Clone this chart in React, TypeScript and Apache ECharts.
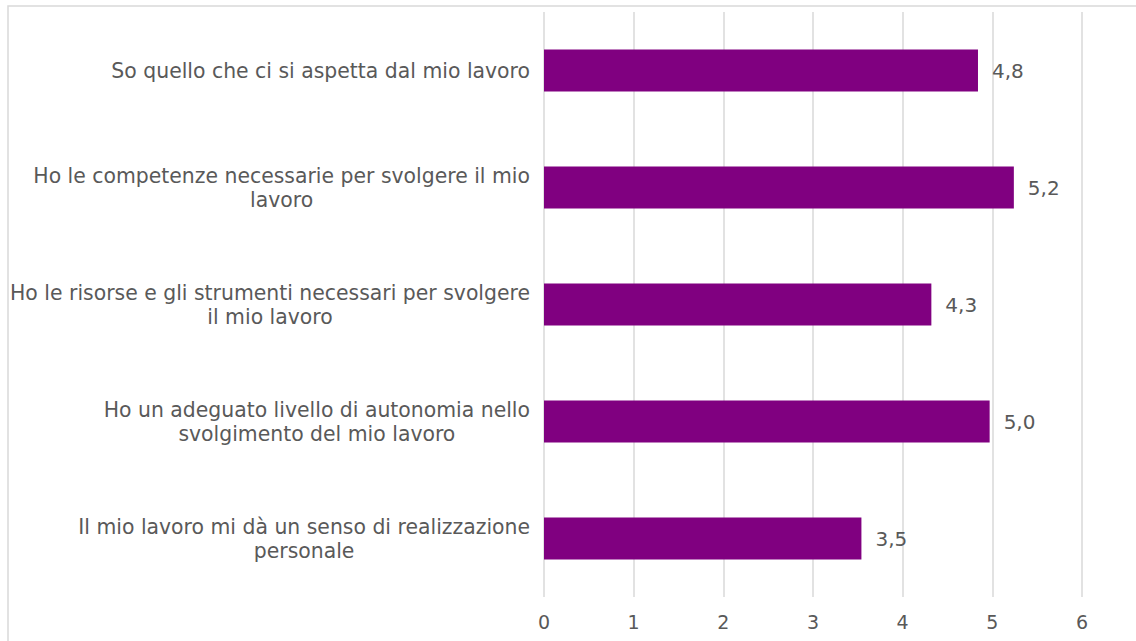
import React, { useEffect, useRef } from "react";
import * as echarts from "echarts";

const categories = [
  "So quello che ci si aspetta dal mio lavoro",
  "Ho le competenze necessarie per svolgere il mio\nlavoro",
  "Ho le risorse e gli strumenti necessari per svolgere\nil mio lavoro",
  "Ho un adeguato livello di autonomia nello\nsvolgimento del mio lavoro",
  "Il mio lavoro mi dà un senso di realizzazione\npersonale",
];
const values = [4.84, 5.24, 4.32, 4.97, 3.54];
const xTicks = [0, 1, 2, 3, 4, 5, 6];

export default function App() {
  const ref = useRef<HTMLDivElement>(null);
  useEffect(() => {
    if (!ref.current) return;
    const chart = echarts.init(ref.current, null, { renderer: "svg" });
    const font = "'DejaVu Sans', Verdana, sans-serif";
    chart.setOption({
      animation: false,
      backgroundColor: "#ffffff",
      grid: { left: 544, right: 54, top: 12, bottom: 44, containLabel: false },
      xAxis: {
        type: "value",
        min: xTicks[0],
        max: xTicks[xTicks.length - 1],
        interval: 1,
        axisLine: { show: false },
        axisTick: { show: false },
        splitLine: { show: true, lineStyle: { color: "#d9d9d9", width: 1.5 } },
        axisLabel: {
          margin: 15,
          color: "#595959",
          fontSize: 19,
          fontFamily: font,
        },
      },
      yAxis: {
        type: "category",
        data: categories,
        inverse: true,
        axisLine: { show: false },
        axisTick: { show: false },
        axisLabel: {
          margin: 14,
          color: "#595959",
          fontSize: 20.4,
          fontFamily: font,
          lineHeight: 24,
          formatter: (v: string) =>
            v
              .split("\n")
              .map((l) => "{c|" + l + "}")
              .join("\n"),
          rich: {
            c: {
              align: "center",
              color: "#595959",
              fontSize: 20.4,
              fontFamily: font,
              lineHeight: 24,
            },
          },
        },
      },
      series: [
        {
          type: "bar",
          data: values,
          barWidth: 42,
          itemStyle: { color: "#800080" },
          label: {
            show: true,
            position: "right",
            distance: 14,
            color: "#595959",
            fontSize: 20,
            fontFamily: font,
            formatter: (p: any) => p.value.toFixed(1).replace(".", ","),
          },
        },
      ],
      graphic: [
        {
          type: "rect",
          shape: { x: 8, y: 6, width: 1150, height: 660 },
          style: { fill: "none", stroke: "#d9d9d9", lineWidth: 1.5 },
          silent: true,
        },
      ],
    });
    return () => chart.dispose();
  }, []);
  return (
    <div
      ref={ref}
      style={{ position: "fixed", left: 0, top: 0, width: 1136, height: 641 }}
    />
  );
}
